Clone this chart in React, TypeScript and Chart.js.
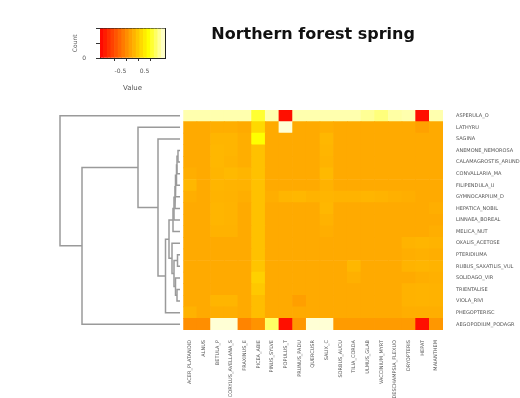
import React, { useEffect, useRef } from "react";
import { Chart, registerables } from "chart.js";
Chart.register(...registerables);

const FONT = "'DejaVu Sans', sans-serif";
const TITLE = "Northern forest spring";

const rowLabels = [
  "ASPERULA_O", "LATHYRU", "SAGINA", "ANEMONE_NEMOROSA", "CALAMAGROSTIS_ARUND",
  "CONVALLARIA_MA", "FILIPENDULA_U", "GYMNOCARPIUM_D", "HEPATICA_NOBIL", "LINNAEA_BOREAL",
  "MELICA_NUT", "OXALIS_ACETOSE", "PTERIDIUMA", "RUBUS_SAXATILIS_VUL", "SOLIDAGO_VIR",
  "TRIENTALISE", "VIOLA_RIVI", "PHEGOPTERISC", "AEGOPODIUM_PODAGR",
];

const colLabels = [
  "ACER_PLATANOID", "ALNUS", "BETULA_P", "CORYLUS_AVELLANA_S", "FRAXINUS_E",
  "PICEA_ABIE", "PINUS_SYLVE", "POPULUS_T", "PRUNUS_PADU", "QUERCUSR",
  "SALIX_C", "SORBUS_AUCU", "TILIA_CORDA", "ULMUS_GLAB", "VACCINIUM_MYRT",
  "DESCHAMPSIA_FLEXUO", "DRYOPTERIS", "HEPAT", "MAIANTHEM",
];

// one row per row label, one value per column label
const cellValues = [
  [0.8, 0.8, 0.8, 0.8, 0.8, 0.55, 0.8, -0.82, 0.8, 0.8, 0.8, 0.8, 0.8, 0.75, 0.7, 0.78, 0.8, -0.82, 0.8],
  [0.0, 0.0, 0.02, 0.02, 0.0, 0.25, 0.0, 0.88, 0.0, 0.0, 0.02, 0.0, 0.0, 0.0, 0.0, 0.0, 0.0, -0.05, 0.0],
  [0.0, 0.0, 0.06, 0.06, 0.02, 0.45, 0.0, 0.0, 0.0, 0.0, 0.07, 0.0, 0.0, 0.0, 0.0, 0.0, 0.0, 0.0, 0.0],
  [0.0, 0.0, 0.07, 0.06, 0.02, 0.12, 0.0, 0.0, 0.0, 0.0, 0.06, 0.0, 0.0, 0.0, 0.0, 0.0, 0.0, 0.0, 0.0],
  [0.0, 0.0, 0.07, 0.05, 0.02, 0.12, 0.0, 0.0, 0.0, 0.0, 0.05, 0.0, 0.0, 0.0, 0.0, 0.0, 0.0, 0.0, 0.0],
  [0.02, 0.0, 0.06, 0.08, 0.06, 0.12, 0.0, 0.0, 0.0, 0.0, 0.08, 0.0, 0.0, 0.0, 0.0, 0.0, 0.0, 0.0, 0.0],
  [0.07, 0.0, 0.06, 0.05, 0.04, 0.12, 0.0, 0.0, 0.0, 0.0, 0.04, 0.0, 0.0, 0.0, 0.0, 0.0, 0.0, 0.0, 0.0],
  [0.02, 0.0, 0.05, 0.04, 0.02, 0.12, 0.02, 0.06, 0.07, 0.05, 0.06, 0.05, 0.05, 0.06, 0.05, 0.03, 0.02, 0.0, 0.0],
  [0.0, 0.0, 0.06, 0.05, 0.0, 0.12, 0.0, 0.0, 0.0, 0.0, 0.07, 0.0, 0.0, 0.0, 0.0, 0.0, 0.0, 0.0, 0.02],
  [0.0, 0.0, 0.06, 0.05, 0.0, 0.12, 0.0, 0.0, 0.0, 0.0, 0.04, 0.0, 0.0, 0.0, 0.0, 0.0, 0.0, 0.0, 0.0],
  [0.0, 0.0, 0.04, 0.04, 0.0, 0.12, 0.0, 0.0, 0.0, 0.0, 0.02, 0.0, 0.0, 0.0, 0.0, 0.0, 0.0, 0.0, 0.02],
  [0.0, 0.0, 0.0, 0.0, 0.0, 0.12, 0.0, 0.0, 0.0, 0.0, 0.0, 0.0, 0.0, 0.0, 0.0, 0.0, 0.05, 0.06, 0.05],
  [0.0, 0.0, 0.0, 0.0, 0.0, 0.12, 0.0, 0.0, 0.0, 0.0, 0.0, 0.0, 0.0, 0.0, 0.0, 0.0, 0.02, 0.03, 0.02],
  [0.0, 0.0, 0.0, 0.0, 0.0, 0.14, 0.0, 0.0, 0.0, 0.0, 0.0, 0.0, 0.07, 0.0, 0.0, 0.0, 0.05, 0.06, 0.05],
  [0.0, 0.0, 0.0, 0.0, 0.0, 0.2, 0.0, 0.0, 0.0, 0.0, 0.0, 0.0, 0.03, 0.0, 0.0, 0.0, 0.0, 0.02, 0.03],
  [0.0, 0.0, 0.0, 0.0, 0.0, 0.16, 0.0, 0.0, 0.0, 0.0, 0.0, 0.0, 0.0, 0.0, 0.0, 0.0, 0.04, 0.05, 0.04],
  [0.0, 0.0, 0.06, 0.06, 0.0, 0.1, 0.0, 0.0, -0.06, 0.0, 0.0, 0.0, 0.0, 0.0, 0.0, 0.0, 0.04, 0.05, 0.04],
  [0.04, 0.0, 0.02, 0.02, 0.0, 0.1, 0.0, 0.0, 0.0, 0.0, 0.0, 0.0, 0.0, 0.0, 0.0, 0.0, 0.02, 0.02, 0.02],
  [-0.15, -0.15, 0.88, 0.88, -0.2, -0.12, 0.65, -0.82, -0.1, 0.88, 0.88, -0.08, -0.08, -0.08, -0.08, -0.08, -0.08, -0.82, -0.1],
];

// row dendrogram: [child A, child B, merge height]; "r#" = row, "n#" = earlier merge
const dendroMerges: [string, string, number][] = [
  ["r3", "r4", 0.2],
  ["n0", "r5", 0.3],
  ["n1", "r6", 0.35],
  ["n2", "r7", 0.45],
  ["n3", "r8", 0.5],
  ["n4", "r9", 0.6],
  ["n5", "r10", 0.7],
  ["r15", "r16", 0.3],
  ["r14", "n7", 0.45],
  ["r12", "r13", 0.25],
  ["n9", "n8", 0.6],
  ["r11", "n10", 0.8],
  ["n6", "n11", 1.1],
  ["n12", "r17", 1.45],
  ["r2", "n13", 2.2],
  ["r1", "n14", 4.2],
  ["n15", "r18", 9.8],
  ["r0", "n16", 12.0],
];

const valueMin = -0.9;
const valueMax = 0.9;
const keyLevels = [-0.85, -0.75, -0.65, -0.55, -0.45, -0.35, -0.25, -0.15, -0.05, 0.05, 0.15, 0.25, 0.35, 0.45, 0.55, 0.65, 0.75, 0.85];
const keyTicks = [-0.5, 0, 0.5];
const keyCountTicks = [0, 1, 2, 3, 4];

function heatColor(v: number) {
  const t = Math.min(1, Math.max(0, (v - valueMin) / (valueMax - valueMin)));
  let h: number, s: number;
  if (t <= 0.75) { h = (60 * t) / 0.75; s = 1; }
  else { h = 60; s = 1 - ((t - 0.75) / 0.25) * 0.875; }
  const g = Math.round(255 * (1 - s * (1 - h / 60)));
  const b = Math.round(255 * (1 - s));
  return `rgb(255,${g},${b})`;
}

function ChartBox({ make, left, top, width, height }: any) {
  const ref = useRef<HTMLCanvasElement>(null);
  useEffect(() => {
    const chart = new Chart(ref.current as HTMLCanvasElement, make());
    return () => chart.destroy();
  }, []);
  return (
    <canvas
      ref={ref}
      width={width}
      height={height}
      style={{ position: "absolute", left, top, width, height }}
    />
  );
}

function heatmapConfig(): any {
  const datasets = rowLabels
    .map((name, r) => ({
      label: name,
      data: colLabels.map(() => 1),
      backgroundColor: cellValues[r].map(heatColor),
      borderWidth: 0,
      barPercentage: 1,
      categoryPercentage: 1,
      xAxisID: "x",
      yAxisID: "y",
    }))
    .reverse();
  return {
    type: "bar",
    data: { labels: colLabels, datasets },
    options: {
      responsive: false,
      animation: false,
      layout: { padding: 0 },
      plugins: {
        legend: { display: false },
        tooltip: { enabled: false },
        title: {
          display: true,
          text: TITLE,
          fullSize: false,
          color: "#111",
          font: { family: FONT, size: 16, weight: "bold" },
          padding: { top: 25, bottom: 65.8 },
        },
      },
      scales: {
        x: {
          type: "category",
          stacked: true,
          offset: true,
          grid: { display: false, drawTicks: false },
          border: { display: false },
          ticks: {
            autoSkip: false, minRotation: 90, maxRotation: 90, padding: 10,
            color: "#555", font: { family: FONT, size: 5 },
          },
          afterFit: (s: any) => { s.height = 68; },
        },
        y: { type: "linear", stacked: true, min: 0, max: rowLabels.length, display: false },
        yRows: {
          type: "category",
          labels: rowLabels,
          position: "right",
          offset: true,
          grid: { display: false, drawTicks: false },
          border: { display: false },
          ticks: { autoSkip: false, padding: 13, color: "#555", font: { family: FONT, size: 5 } },
          afterFit: (s: any) => { s.width = 77; },
        },
      },
    },
  };
}

function dendroConfig(): any {
  const nodes: Record<string, { pos: number; h: number }> = {};
  rowLabels.forEach((_, i) => { nodes["r" + i] = { pos: i, h: 0 }; });
  const datasets = dendroMerges.map(([a, b, h], k) => {
    const A = nodes[a];
    const B = nodes[b];
    nodes["n" + k] = { pos: (A.pos + B.pos) / 2, h };
    return {
      data: [
        { x: A.h, y: A.pos }, { x: h, y: A.pos },
        { x: h, y: B.pos }, { x: B.h, y: B.pos },
      ],
      showLine: true,
      borderColor: "#9a9a9a",
      borderWidth: 1.5,
      pointRadius: 0,
      tension: 0,
      clip: false,
    };
  });
  return {
    type: "scatter",
    data: { datasets },
    options: {
      responsive: false,
      animation: false,
      layout: { padding: 0 },
      plugins: { legend: { display: false }, tooltip: { enabled: false } },
      scales: {
        x: { type: "linear", reverse: true, min: 0, max: 18, display: false },
        y: { type: "linear", reverse: true, min: -0.5, max: rowLabels.length - 0.5, display: false },
      },
    },
  };
}

function keyConfig(): any {
  const tickFont = { family: FONT, size: 6 };
  return {
    type: "bar",
    data: {
      labels: keyLevels.map(String),
      datasets: [
        {
          data: keyLevels.map(() => keyCountTicks[keyCountTicks.length - 1]),
          backgroundColor: keyLevels.map(heatColor),
          borderWidth: 0,
          barPercentage: 1,
          categoryPercentage: 1,
          xAxisID: "xc",
          yAxisID: "y",
        },
      ],
    },
    options: {
      responsive: false,
      animation: false,
      layout: { padding: { top: 12, right: 10 } },
      plugins: { legend: { display: false }, tooltip: { enabled: false } },
      scales: {
        xc: { type: "category", display: false, offset: true },
        x: {
          type: "linear",
          position: "bottom",
          min: valueMin,
          max: valueMax,
          afterBuildTicks: (s: any) => { s.ticks = keyTicks.map((v) => ({ value: v })); },
          grid: { drawOnChartArea: false, tickLength: 3, color: "#333" },
          border: { display: true, color: "#222" },
          ticks: {
            padding: 7, color: "#555", font: tickFont,
            callback: (v: number) => (v === 0 ? "" : String(v)),
          },
          title: { display: true, text: "Value", color: "#555", font: { family: FONT, size: 7 }, padding: { top: 2, bottom: 8 } },
          afterFit: (s: any) => { s.height = 42; },
        },
        xTop: {
          type: "linear", position: "top", min: valueMin, max: valueMax,
          grid: { display: false, drawTicks: false },
          border: { display: true, color: "#222" },
          ticks: { display: false },
          afterFit: (s: any) => { s.height = 0; },
        },
        y: {
          type: "linear",
          position: "left",
          min: 0,
          max: keyCountTicks[keyCountTicks.length - 1],
          afterBuildTicks: (s: any) => { s.ticks = keyCountTicks.map((v) => ({ value: v })); },
          grid: { drawOnChartArea: false, tickLength: 4, color: "#333" },
          border: { display: true, color: "#222" },
          ticks: {
            padding: 10, color: "#555", font: tickFont,
            callback: (v: number) => (v === 0 ? "0" : ""),
          },
          title: { display: true, text: "Count", color: "#555", font: { family: FONT, size: 6 }, padding: { top: 17, bottom: 0 } },
          afterFit: (s: any) => { s.width = 45; },
        },
        yRight: {
          type: "linear", position: "right", min: 0, max: keyCountTicks[keyCountTicks.length - 1],
          grid: { display: false, drawTicks: false },
          border: { display: true, color: "#222" },
          ticks: { display: false },
          afterFit: (s: any) => { s.width = 0; },
        },
      },
    },
  };
}

export default function App() {
  return (
    <div style={{ position: "absolute", left: 0, top: 0, width: 520, height: 398, background: "#fff", overflow: "hidden" }}>
      <ChartBox make={keyConfig} left={55} top={15} width={120} height={85} />
      <ChartBox make={dendroConfig} left={0} top={110} width={180} height={220} />
      <ChartBox make={heatmapConfig} left={180} top={0} width={340} height={398} />
    </div>
  );
}
